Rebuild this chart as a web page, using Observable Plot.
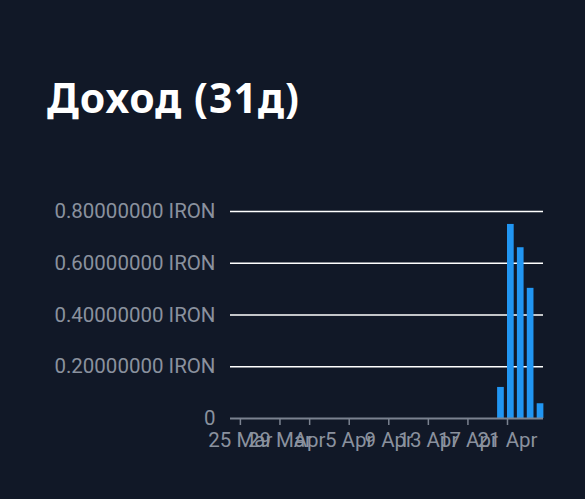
<!DOCTYPE html>
<html>
<head>
<meta charset="utf-8">
<script src="https://cdn.jsdelivr.net/npm/d3@7"></script>
<script src="https://cdn.jsdelivr.net/npm/@observablehq/plot@0.6"></script>
<style>
  html, body { margin: 0; padding: 0; background: #111827; width: 585px; height: 499px; overflow: hidden; }
  #title { position: absolute; left: 47px; top: 77px; font-family: "Noto Sans", sans-serif; font-weight: 700; font-size: 41px; color: #ffffff; line-height: 1; letter-spacing: 1px; white-space: nowrap; }
  #chart { position: absolute; left: 0; top: 170px; }
</style>
</head>
<body>
<div id="title">Доход (31д)</div>
<div id="chart"></div>
<script>
const title = "Доход (31д)";
const days = [
  "2025-03-25","2025-03-26","2025-03-27","2025-03-28","2025-03-29","2025-03-30","2025-03-31",
  "2025-04-01","2025-04-02","2025-04-03","2025-04-04","2025-04-05","2025-04-06","2025-04-07",
  "2025-04-08","2025-04-09","2025-04-10","2025-04-11","2025-04-12","2025-04-13","2025-04-14",
  "2025-04-15","2025-04-16","2025-04-17","2025-04-18","2025-04-19","2025-04-20","2025-04-21",
  "2025-04-22","2025-04-23","2025-04-24"
];
const values = [
  0,0,0,0,0,0,0,
  0,0,0,0,0,0,0,
  0,0,0,0,0,0,0,
  0,0,0,0,0,0.12,0.75,
  0.66,0.503,0.057
];
const yTicks = [0, 0.2, 0.4, 0.6, 0.8];
const xTickDates = ["2025-03-25","2025-03-29","2025-04-01","2025-04-05","2025-04-09","2025-04-13","2025-04-17","2025-04-21"];
const xTickLabels = ["25 Mar","29 Mar","Apr","5 Apr","9 Apr","13 Apr","17 Apr","21 Apr"];
const unit = "IRON";

document.getElementById("title").textContent = title;

const data = days.map((d, i) => ({date: new Date(d + "T00:00:00Z"), value: values[i]}));
const xTicks = xTickDates.map(d => new Date(d + "T00:00:00Z"));
const labelOf = new Map(xTicks.map((d, i) => [+d, xTickLabels[i]]));

const gray = "#8a919e";
const chart = Plot.plot({
  width: 585,
  height: 299,
  marginLeft: 230,
  marginRight: 42,
  marginTop: 41,
  marginBottom: 51,
  style: {background: "transparent", fontFamily: "Roboto, sans-serif", fontSize: "20.5px", color: gray},
  x: {type: "utc", domain: [new Date("2025-03-24T00:00:00Z"), new Date("2025-04-24T15:20:00Z")]},
  y: {domain: [0, 0.8]},
  marks: [
    Plot.ruleY(yTicks.filter(d => d > 0), {stroke: "#ffffff", strokeWidth: 1.5}),
    Plot.rectY(data, {x: "date", y: "value", interval: "day", fill: "#2196f3", insetLeft: 0, insetRight: 3.2}),
    Plot.ruleY([0], {stroke: "#7b8290", strokeWidth: 2}),
    Plot.axisY({ticks: yTicks, tickSize: 0, tickPadding: 15, label: null, fill: gray,
      tickFormat: d => d === 0 ? "0" : d.toFixed(8) + " " + unit}),
    Plot.axisX({ticks: xTicks, tickSize: 7, tickPadding: 7, label: null, stroke: "#7b8290", fill: gray, strokeWidth: 1.5,
      tickFormat: d => labelOf.get(+d)})
  ]
});
document.getElementById("chart").appendChild(chart);
</script>
</body>
</html>
